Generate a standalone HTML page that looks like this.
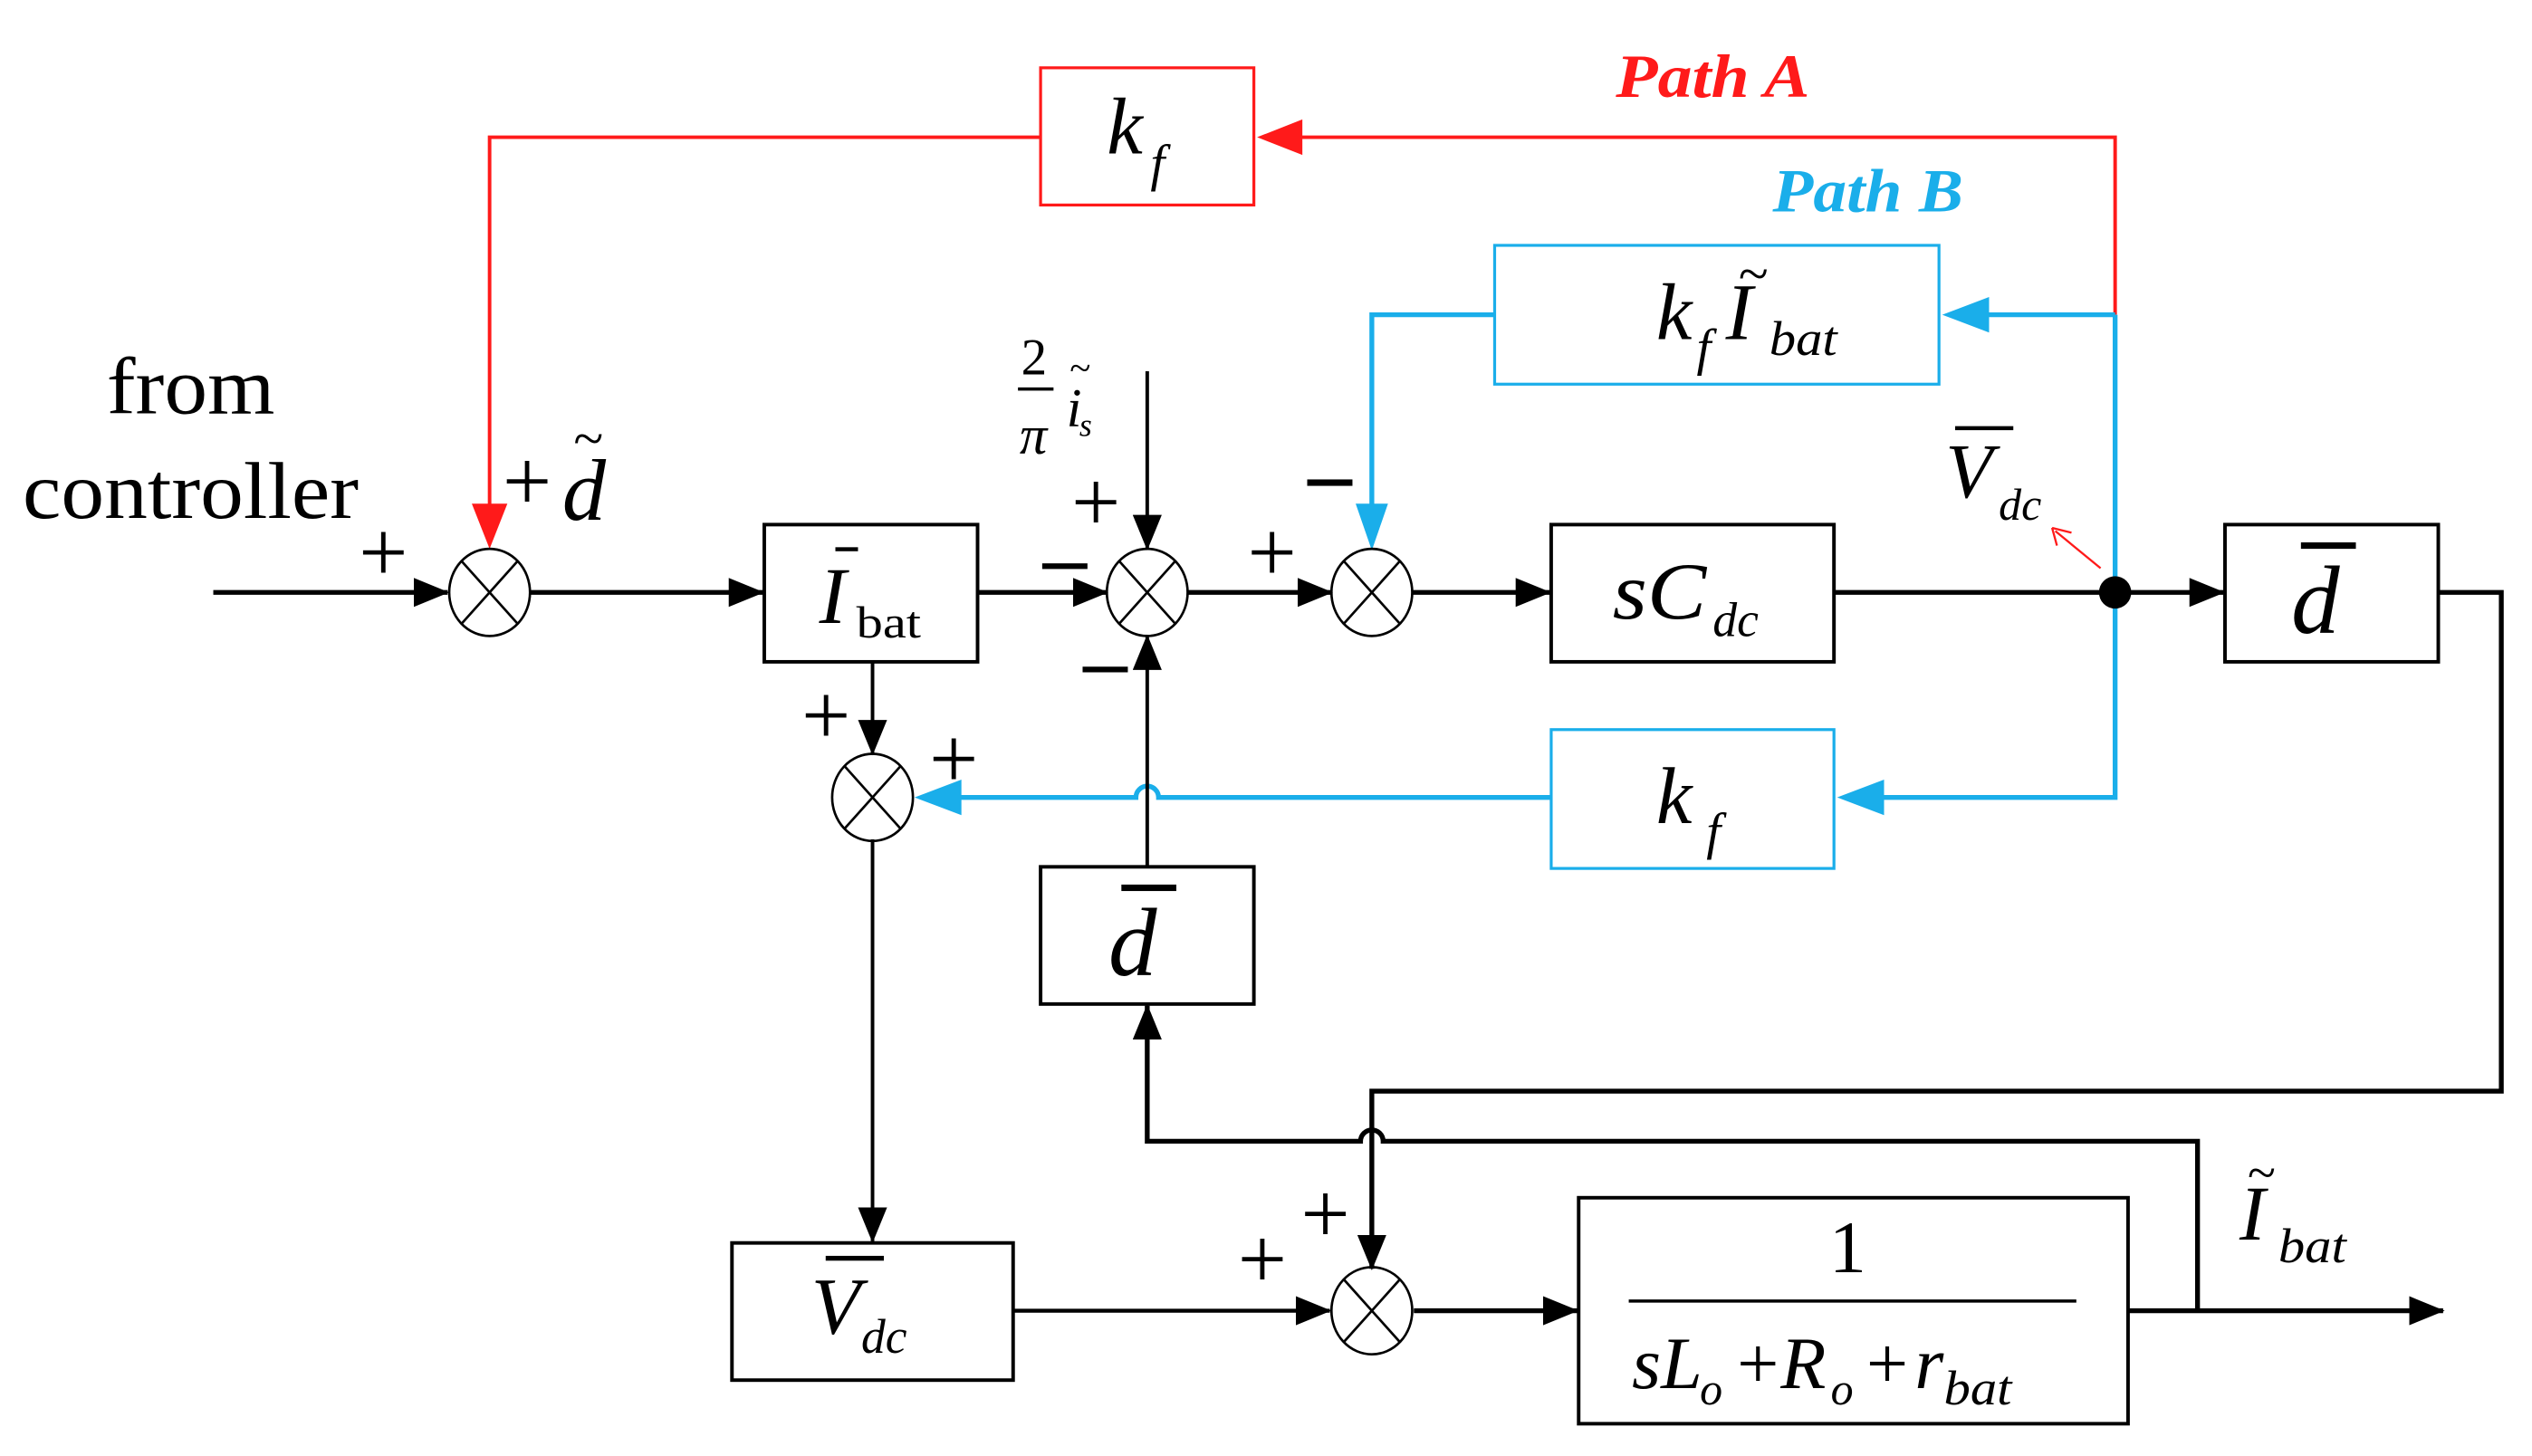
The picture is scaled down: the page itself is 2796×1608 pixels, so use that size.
<!DOCTYPE html>
<html><head><meta charset="utf-8"><style>
html,body{margin:0;padding:0;background:#fff;}
svg{display:block;}
text{font-family:"Liberation Serif",serif;}
.it{font-style:italic;}
</style></head><body>
<svg width="2796" height="1608" viewBox="0 0 1567 902" preserveAspectRatio="none" xmlns="http://www.w3.org/2000/svg">
<defs>
<marker id="ab" markerWidth="22" markerHeight="18" refX="21" refY="9" orient="auto" markerUnits="userSpaceOnUse" viewBox="0 0 22 18"><path d="M0,0 L22,9 L0,18 z" fill="#000"/></marker>
</defs>
<g fill="none" stroke-width="2.2">
<path d="M1309,195 V85 H800" stroke="#ff1a1a"/>
<path d="M778,85 L806,74 L806,96 z" fill="#ff1a1a" stroke="none"/>
<path d="M644,85 H303 V318" stroke="#ff1a1a"/>
<path d="M303,340 L292,312 L314,312 z" fill="#ff1a1a" stroke="none"/>
<rect x="644" y="42" width="132" height="85" stroke="#ff1a1a" stroke-width="1.8"/>
<path d="M1309,195 V494 H1160" stroke="#1aaeea" stroke-width="3"/>
<path d="M1137,494 L1166,483 L1166,505 z" fill="#1aaeea" stroke="none"/>
<path d="M1309,195 H1228" stroke="#1aaeea" stroke-width="3"/>
<path d="M1202,195 L1231,184 L1231,206 z" fill="#1aaeea" stroke="none"/>
<path d="M925,195 H849 V315" stroke="#1aaeea" stroke-width="3"/>
<path d="M849,341 L839,312 L859,312 z" fill="#1aaeea" stroke="none"/>
<rect x="925" y="152" width="275" height="86" stroke="#1aaeea" stroke-width="1.8"/>
<rect x="960" y="452" width="175" height="86" stroke="#1aaeea" stroke-width="1.8"/>
<path d="M960,494 H717 a7,7 0 0 0 -14,0 H592" stroke="#1aaeea" stroke-width="3"/>
<path d="M566,494 L595,483 L595,505 z" fill="#1aaeea" stroke="none"/>
<g stroke="#000">
<path d="M132,367 H277" stroke-width="3" marker-end="url(#ab)"/>
<path d="M328,367 H472" stroke-width="3" marker-end="url(#ab)"/>
<path d="M605,367 H685" stroke-width="3" marker-end="url(#ab)"/>
<path d="M735,367 H824" stroke-width="3" marker-end="url(#ab)"/>
<path d="M874,367 H959" stroke-width="3" marker-end="url(#ab)"/>
<path d="M1135,367 H1376" stroke-width="3" marker-end="url(#ab)"/>
<path d="M710,230 V340" marker-end="url(#ab)"/>
<path d="M710,537 V394" marker-end="url(#ab)"/>
<path d="M540,410 V467" marker-end="url(#ab)"/>
<path d="M540,520 V769" marker-end="url(#ab)"/>
<path d="M1509,367 H1548 V676 H849 V786" stroke-width="3" marker-end="url(#ab)"/>
<path d="M1360,812 V707 H856 a7,7 0 0 0 -14,0 H710 V623" stroke-width="3" marker-end="url(#ab)"/>
<path d="M627,812 H823" stroke-width="2.5" marker-end="url(#ab)"/>
<path d="M875,812 H976" stroke-width="3" marker-end="url(#ab)"/>
<path d="M1317,812 H1512" stroke-width="3" marker-end="url(#ab)"/>
<rect x="473" y="325" width="132" height="85"/>
<rect x="960" y="325" width="175" height="85"/>
<rect x="1377" y="325" width="132" height="85"/>
<rect x="644" y="537" width="132" height="85"/>
<rect x="453" y="770" width="174" height="85"/>
<rect x="977" y="742" width="340" height="140"/>
<path d="M1008,806 H1285" stroke-width="2"/>
<g stroke-width="1.5">
<ellipse cx="303" cy="367" rx="25" ry="27"/><path d="M286,348 L320,386 M320,348 L286,386"/>
<ellipse cx="710" cy="367" rx="25" ry="27"/><path d="M693,348 L727,386 M727,348 L693,386"/>
<ellipse cx="849" cy="367" rx="25" ry="27"/><path d="M832,348 L866,386 M866,348 L832,386"/>
<ellipse cx="540" cy="494" rx="25" ry="27"/><path d="M523,475 L557,513 M557,475 L523,513"/>
<ellipse cx="849" cy="812" rx="25" ry="27"/><path d="M832,793 L866,831 M866,793 L832,831"/>
</g>
</g>
<circle cx="1309" cy="367" r="10" fill="#000" stroke="none"/>
<path d="M1300,352 L1272,329" stroke="#ff1a1a" stroke-width="1.3"/>
<path d="M1270,327 L1282,330 M1270,327 L1273,338" stroke="#ff1a1a" stroke-width="1.3"/>
</g>
<g fill="#000">
<text x="1000" y="60" class="it" font-weight="bold" font-size="38" fill="#ff1a1a" textLength="120" lengthAdjust="spacingAndGlyphs">Path A</text>
<text x="1097" y="131" class="it" font-weight="bold" font-size="38" fill="#1aaeea" textLength="118" lengthAdjust="spacingAndGlyphs">Path B</text>
<text x="66" y="256" font-size="50" textLength="104" lengthAdjust="spacingAndGlyphs">from</text>
<text x="14" y="321" font-size="50" textLength="208" lengthAdjust="spacingAndGlyphs">controller</text>
<text x="685" y="95" class="it" font-size="50">k</text><text x="712" y="112" class="it" font-size="32">f</text>
<text x="1025" y="210" class="it" font-size="50">k</text><text x="1050" y="226" class="it" font-size="32">f</text>
<text x="1068" y="210" class="it" font-size="50">I</text><text x="1076" y="181" font-size="34">~</text><text x="1095" y="220" class="it" font-size="30" textLength="42" lengthAdjust="spacingAndGlyphs">bat</text>
<text x="1025" y="510" class="it" font-size="50">k</text><text x="1056" y="526" class="it" font-size="32">f</text>
<text x="998" y="383" class="it" font-size="50" textLength="58" lengthAdjust="spacingAndGlyphs">sC</text><text x="1060" y="394" class="it" font-size="30">dc</text>
<text x="1418" y="392" class="it" font-size="60">d</text><rect x="1424" y="336" width="34" height="4"/>
<text x="686" y="604" class="it" font-size="60">d</text><rect x="694" y="548" width="34" height="4"/>
<text x="507" y="386" class="it" font-size="50">I</text><rect x="517" y="339" width="14" height="2.5"/><text x="530" y="395" font-size="28" textLength="40" lengthAdjust="spacingAndGlyphs">bat</text>
<text x="348" y="322" class="it" font-size="54">d</text><text x="355" y="283" font-size="34">~</text>
<text x="502" y="826" class="it" font-size="50">V</text><rect x="511" y="778" width="36" height="3"/><text x="533" y="838" class="it" font-size="30">dc</text>
<text x="1204" y="308" class="it" font-size="48">V</text><rect x="1210" y="264" width="36" height="2.5"/><text x="1237" y="322" class="it" font-size="28">dc</text>
<text x="1386" y="768" class="it" font-size="48">I</text><text x="1391" y="737" font-size="32">~</text><text x="1410" y="782" class="it" font-size="30" textLength="42" lengthAdjust="spacingAndGlyphs">bat</text>
<text x="1132" y="788" font-size="46">1</text>
<text x="1010" y="860" class="it" font-size="46">sL</text><text x="1052" y="870" class="it" font-size="28">o</text>
<text x="1075" y="860" font-size="46">+</text>
<text x="1102" y="860" class="it" font-size="46">R</text><text x="1133" y="870" class="it" font-size="28">o</text>
<text x="1155" y="860" font-size="46">+</text>
<text x="1185" y="860" class="it" font-size="46">r</text><text x="1203" y="870" class="it" font-size="30" textLength="42" lengthAdjust="spacingAndGlyphs">bat</text>
<text x="632" y="232" font-size="32">2</text><rect x="630" y="240" width="22" height="2"/><text x="631" y="281" class="it" font-size="34">π</text>
<text x="660" y="264" class="it" font-size="34">i</text><text x="668" y="270" class="it" font-size="20">s</text><text x="662" y="236" font-size="24">~</text>
<g font-size="54">
<text x="222" y="360">+</text>
<text x="311" y="316">+</text>
<text x="663" y="329">+</text>
<text x="772" y="360">+</text>
<text x="496" y="461">+</text>
<text x="575" y="488">+</text>
<text x="766" y="798">+</text>
<text x="805" y="770">+</text>
</g>
<rect x="645" y="349" width="28" height="3.5"/>
<rect x="670" y="413" width="28" height="3.5"/>
<rect x="809" y="297" width="28" height="4"/>
</g>
</svg>
</body></html>
